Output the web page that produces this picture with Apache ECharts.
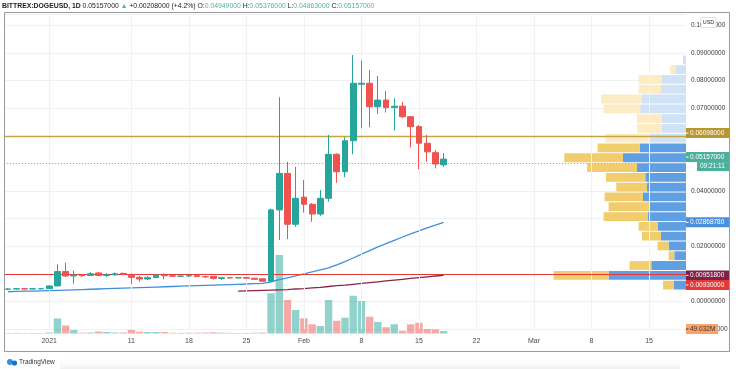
<!DOCTYPE html>
<html><head><meta charset="utf-8">
<script src="https://cdn.jsdelivr.net/npm/echarts@6/dist/echarts.min.js"></script>
<style>html,body{margin:0;padding:0;background:#fff;overflow:hidden}#c{width:736px;height:369px}</style>
</head><body><div id="c"></div>
<script>
// ---------- DATA ----------
const dates = [
'2020-12-27','2020-12-28','2020-12-29','2020-12-30','2020-12-31',
'2021-01-01','2021-01-02','2021-01-03','2021-01-04','2021-01-05','2021-01-06','2021-01-07','2021-01-08','2021-01-09','2021-01-10',
'2021-01-11','2021-01-12','2021-01-13','2021-01-14','2021-01-15','2021-01-16','2021-01-17','2021-01-18','2021-01-19','2021-01-20',
'2021-01-21','2021-01-22','2021-01-23','2021-01-24','2021-01-25','2021-01-26','2021-01-27','2021-01-28','2021-01-29','2021-01-30','2021-01-31',
'2021-02-01','2021-02-02','2021-02-03','2021-02-04','2021-02-05','2021-02-06','2021-02-07','2021-02-08','2021-02-09','2021-02-10',
'2021-02-11','2021-02-12','2021-02-13','2021-02-14','2021-02-15','2021-02-16','2021-02-17','2021-02-18','2021-02-19','2021-02-20',
'2021-02-21','2021-02-22','2021-02-23','2021-02-24','2021-02-25','2021-02-26','2021-02-27','2021-02-28',
'2021-03-01','2021-03-02','2021-03-03','2021-03-04','2021-03-05','2021-03-06','2021-03-07','2021-03-08','2021-03-09','2021-03-10',
'2021-03-11','2021-03-12','2021-03-13','2021-03-14','2021-03-15','2021-03-16','2021-03-17','2021-03-18','2021-03-19'];

const open  = [.0045,.0046,.0047,.0046,.0047, .0047,.0057,.0109,.0093,.0096,.0095,.0104,.0095,.0097,.0102,
  .0099,.0088,.0082,.0087,.0096,.0094,.0092,.0093,.0094,.0091, .0092,.0084,.0087,.0086,.0087,.0085,.0083,.0074,.0332,.0464,.0280,
  .0378,.0352,.0317,.0374,.0533,.0470,.0582,.0786,.0790,.0705, .0729,.0702,.0707,.0669,.0633,.0573,.0539,.04949];
const high  = [.0049,.0048,.0048,.0048,.0049, .0059,.0135,.0141,.0112,.0100,.0107,.0107,.0104,.0106,.0106,
  .0101,.0093,.0092,.0099,.0103,.0097,.0095,.0096,.0096,.0094, .0093,.0088,.0089,.0088,.0090,.0086,.0084,.0337,.0739,.0506,.0488,
  .0440,.0357,.0404,.0603,.0537,.0595,.0892,.0872,.0838,.0816, .0762,.0736,.0723,.0672,.0639,.0603,.0549,.05376];
const low   = [.0043,.0044,.0044,.0045,.0045, .0046,.0056,.0089,.0065,.0090,.0093,.0092,.0089,.0095,.0096,
  .0064,.0072,.0078,.0085,.0081,.0089,.0089,.0090,.0089,.0085, .0080,.0078,.0084,.0084,.0083,.0079,.0072,.0071,.0223,.0226,.0271,
  .0322,.0289,.0310,.0362,.0430,.0450,.0533,.0627,.0631,.0679, .0684,.0618,.0663,.0558,.0479,.0506,.0482,.04863];
const close = [.0046,.0047,.0046,.0047,.0047, .0057,.0109,.0093,.0096,.0094,.0101,.0095,.0097,.0101,.0100,
  .0088,.0082,.0087,.0096,.0094,.0092,.0093,.0094,.0091,.0090, .0084,.0087,.0086,.0087,.0085,.0081,.0074,.0332,.0464,.0280,.0374,
  .0352,.0317,.0374,.0533,.0470,.0582,.0790,.0790,.0705,.0729, .0702,.0707,.0669,.0633,.0573,.0542,.0498,.05157];
// volume in millions
const volume = [10,12,9,11,10, 20,300,160,70,15,20,40,30,20,20,
  70,34,30,30,28,14,12,15,16,18, 24,16,12,10,12,14,18,805,1570,670,470,
  305,185,150,670,255,315,755,650,335,230, 125,185,56,185,215,90,84,49.032];
const ma50 = [.0036,.0037,.0038,.0038,.0039, .0040,.0041,.0042,.0043,.0044,.0045,.0046,.0047,.0048,.0049,
  .0050,.0051,.0052,.0053,.0054,.0055,.0056,.0057,.0058,.0059, .0060,.0061,.0062,.0063,.0064,.0065,.0066,.0072,.0080,.0086,.0093,
  .0101,.0108,.0115,.0122,.0133,.0145,.0158,.0172,.0185,.0198, .0210,.0222,.0234,.0245,.0256,.0267,.0277,.0286878];
const ma200 = [null,null,null,null,null, null,null,null,null,null,null,null,null,null,null,
  null,null,null,null,null,null,null,null,null,null, null,null,null,.0038,.0039,.0040,.0041,.0042,.0043,.0044,.0046,
  .0047,.0050,.0052,.0055,.0058,.0060,.0063,.0066,.0069,.0072, .0075,.0078,.0081,.0084,.0087,.0090,.0093,.009518];

const xTickDates  = ['2021-01-01','2021-01-11','2021-01-18','2021-01-25','2021-02-01','2021-02-08','2021-02-15','2021-02-22','2021-03-01','2021-03-08','2021-03-15'];
const xTickLabels = ['2021','11','18','25','Feb','8','15','22','Mar','8','15'];
const hiddenPriceTicks = [0.01, 0.03, 0.05, 0.06];

// visible-range volume profile rows (bottom -> top)
const vpvrLow  = [.00423,.00777,.01131,.01486,.01840,.02194,.02548,.02903,.03257,.03611,.03965,.04320,.04674,.05028,.05382,.05736,.06090,.06445,.06799,.07153,.07507,.07862,.08216,.08570];
const vpvrHigh = [.00777,.01131,.01486,.01840,.02194,.02548,.02903,.03257,.03611,.03965,.04320,.04674,.05028,.05382,.05736,.06090,.06445,.06799,.07153,.07507,.07862,.08216,.08570,.08924];
const vpvrUp   = [124,774,347,117,174,250,284,384,364,430,390,407,490,630,464,374,240,240,457,440,250,240,107,30];
const vpvrDown = [106,550,217,57,110,190,190,440,410,384,307,393,500,587,420,433,250,250,367,410,224,234,50,0];
const vpvrInValueArea = [1,1,1,1,1,1,1,1,1,1,1,1,1,1,1,0,0,0,0,0,0,0,0,0];

const userLinePrice = 0.06098, pocPrice = 0.0093, lastPrice = 0.05157, ma50Last = 0.0286878, ma200Last = 0.009518, lastVolume = 49.032;
const headerParts = ['BITTREX:DOGEUSD, 1D', '0.05157000', '▲', '+0.00208000 (+4.2%)', '0.04949000', '0.05376000', '0.04863000', '0.05157000'];

// ---------- CHART ----------
const UP = '#26a69a', DN = '#ef5350';
const FONT = '"Liberation Sans", Arial, sans-serif';
const GL = 4, GR = 50;
const chart = echarts.init(document.getElementById('c'));
const candleData = open.map((o, i) => [o, close[i], low[i], high[i]]);
const volData = volume.map((v, i) => ({value: v, itemStyle: {color: close[i] >= open[i] ? 'rgba(38,166,154,0.5)' : 'rgba(239,83,80,0.5)'}}));
const vpvrData = vpvrLow.map((l, i) => [l, vpvrHigh[i], vpvrUp[i], vpvrDown[i], vpvrInValueArea[i]]);

const option = {
  animation: false,
  grid: [
    {left: GL, right: GR, top: 14.1, height: 315.25},
    {left: GL, right: GR, top: 183.5, height: 150},
    {left: GL, right: GR, top: 14.1, height: 315.25}
  ],
  xAxis: [
    {type: 'category', gridIndex: 0, data: dates, boundaryGap: true, axisLine: {show: false}, axisTick: {show: false}, axisLabel: {show: false}, splitLine: {show: false}},
    {type: 'category', gridIndex: 1, data: dates, boundaryGap: true, axisLine: {show: false}, axisTick: {show: false}, splitLine: {show: false},
      axisLabel: {show: true, margin: 4, fontSize: 7, color: '#4a4a4a', fontFamily: FONT,
        interval: (i, v) => xTickDates.indexOf(v) >= 0,
        formatter: v => { const k = xTickDates.indexOf(v); return k >= 0 ? xTickLabels[k] : ''; }}},
    {type: 'value', gridIndex: 2, inverse: true, min: 0, max: 6820, show: false}
  ],
  yAxis: [
    {type: 'value', gridIndex: 0, position: 'right', min: -0.01, max: 0.104, interval: 0.01,
      axisLine: {show: false}, axisTick: {show: false},
      splitLine: {show: true, lineStyle: {color: '#f0f1f4', width: 1}},
      axisLabel: {show: true, margin: 5, fontSize: 6.5, color: '#3a3a3a', fontFamily: FONT, align: 'left',
        formatter: v => {
          const r = Math.round(v * 100) / 100;
          if (Math.abs(r - v) > 1e-9) return '';
          if (hiddenPriceTicks.some(h => Math.abs(h - r) < 1e-9)) return '';
          return r.toFixed(8);
        }}},
    {type: 'value', gridIndex: 1, min: 0, max: 3000, show: false},
    {type: 'value', gridIndex: 2, min: -0.01, max: 0.104, show: false}
  ],
  series: [
    { // vertical grid lines at label dates
      type: 'line', xAxisIndex: 0, yAxisIndex: 0, data: [], silent: true, z: 0,
      markLine: {silent: true, symbol: 'none', label: {show: false}, animation: false,
        lineStyle: {color: '#f0f1f4', width: 1, type: 'solid'},
        data: xTickDates.map(d => ({xAxis: d}))}
    },
    { // current price dotted line
      type: 'line', xAxisIndex: 0, yAxisIndex: 0, data: [], silent: true, z: 1,
      markLine: {silent: true, symbol: 'none', label: {show: false}, animation: false,
        lineStyle: {color: '#9db3af', width: 1, type: [1, 2]},
        data: [{yAxis: lastPrice}]}
    },
    {
      type: 'bar', xAxisIndex: 1, yAxisIndex: 1, data: volData, barWidth: '90%', z: 2, silent: true
    },
    {
      type: 'custom', xAxisIndex: 2, yAxisIndex: 2, data: vpvrData, z: 3, silent: true,
      renderItem: (params, api) => {
        const lo = api.value(0), hi = api.value(1), up = api.value(2), dn = api.value(3), va = api.value(4);
        const pR = api.coord([0, hi]);
        const pU = api.coord([up, lo]);
        const pD = api.coord([up + dn, lo]);
        const y0 = pR[1] + 0.5, h = pU[1] - pR[1] - 1;
        return {type: 'group', children: [
          {type: 'rect', shape: {x: pU[0], y: y0, width: pR[0] - pU[0], height: h}, style: {fill: va ? '#5f9fe2' : '#d0e2f6'}},
          {type: 'rect', shape: {x: pD[0], y: y0, width: pU[0] - pD[0], height: h}, style: {fill: va ? '#f2cd6e' : '#fcebc3'}}
        ]};
      }
    },
    {
      type: 'line', xAxisIndex: 0, yAxisIndex: 0, data: ma50, showSymbol: false, z: 4, silent: true,
      lineStyle: {color: '#3f8fdc', width: 1.3}
    },
    {
      type: 'line', xAxisIndex: 0, yAxisIndex: 0, data: ma200, showSymbol: false, z: 4, silent: true,
      lineStyle: {color: '#8c2345', width: 1.3}
    },
    {
      type: 'candlestick', xAxisIndex: 0, yAxisIndex: 0, data: candleData, barWidth: '76%', z: 5, silent: true,
      itemStyle: {color: UP, color0: DN, borderColor: UP, borderColor0: DN, borderWidth: 1}
    },
    { // user horizontal line and POC line
      type: 'line', xAxisIndex: 0, yAxisIndex: 0, data: [], silent: true, z: 6,
      markLine: {silent: true, symbol: 'none', label: {show: false}, animation: false,
        data: [
          {yAxis: userLinePrice, lineStyle: {color: '#c6a444', width: 1.4, type: 'solid'}},
          {yAxis: pocPrice, lineStyle: {color: '#e53935', width: 1.2, type: 'solid'}}
        ]}
    }
  ]
};
chart.setOption(option);

// ---------- overlay labels / frame ----------
const py = v => chart.convertToPixel({yAxisIndex: 0}, v);
const vy = v => chart.convertToPixel({yAxisIndex: 1}, v);
function tag(y, text, bg, fg, x0, w) {
  return [
    {type: 'rect', z: 50, shape: {x: x0, y: y - 5, width: w, height: 10}, style: {fill: bg}},
    {type: 'rect', z: 51, shape: {x: x0, y: y - 0.5, width: 2.5, height: 1}, style: {fill: fg}},
    {type: 'text', z: 52, style: {x: x0 + 4, y: y, text: text, fill: fg, font: '6.5px ' + FONT, textVerticalAlign: 'middle', verticalAlign: 'middle'}}
  ];
}
const g = [];
// frame
g.push({type: 'rect', z: 40, shape: {x: 4.5, y: 12.5, width: 725, height: 339}, style: {fill: 'none', stroke: '#9b9b9b', lineWidth: 1}});
// price tags
g.push(...tag(py(userLinePrice), '0.06098000', '#b8962f', '#ffffff', 686, 43));
g.push(...tag(py(lastPrice) - 2, '0.05157000', '#4caf9c', '#ffffff', 686, 43));
g.push({type: 'rect', z: 50, shape: {x: 697, y: py(lastPrice) + 3, width: 32, height: 9}, style: {fill: '#4caf9c'}});
g.push({type: 'text', z: 52, style: {x: 700, y: py(lastPrice) + 7.5, text: '09:21:11', fill: '#ffffff', font: '6.5px ' + FONT, textVerticalAlign: 'middle', verticalAlign: 'middle'}});
g.push(...tag(py(ma50Last), '0.02868780', '#4a90dc', '#ffffff', 686, 43));
g.push(...tag(py(ma200Last), '0.00951800', '#7e1f48', '#ffffff', 686, 43));
g.push(...tag(py(pocPrice) + 9, '0.00930000', '#e53935', '#ffffff', 686, 43));
g.push(...tag(vy(lastVolume) - 2, '49.032M', '#f4a46c', '#4a3020', 686, 32));
// USD box
g.push({type: 'rect', z: 50, shape: {x: 701, y: 17.5, width: 15, height: 10, r: 1}, style: {fill: '#ffffff', stroke: '#d6d6d6', lineWidth: 0.8}});
g.push({type: 'text', z: 52, style: {x: 708.5, y: 22.5, text: 'USD', fill: '#333', font: '5.5px ' + FONT, textAlign: 'center', align: 'center', textVerticalAlign: 'middle', verticalAlign: 'middle'}});
// header
g.push({type: 'text', z: 52, style: {x: 2, y: 6, fill: '#222', font: '6.85px ' + FONT, textVerticalAlign: 'middle', verticalAlign: 'middle',
  text: '{b|' + headerParts[0] + '} ' + headerParts[1] + ' {g|' + headerParts[2] + '} ' + headerParts[3] +
    ' O:{g|' + headerParts[4] + '} H:{g|' + headerParts[5] + '} L:{g|' + headerParts[6] + '} C:{g|' + headerParts[7] + '}',
  rich: {b: {fontWeight: 'bold', fontSize: 6.85, fontFamily: FONT, fill: '#222', color: '#222'}, g: {fontSize: 6.85, fontFamily: FONT, fill: '#4fb3a0', color: '#4fb3a0'}}}});
// bottom shadow + logo
g.push({type: 'rect', z: 1, shape: {x: 60, y: 357, width: 620, height: 12}, style: {fill: new echarts.graphic.LinearGradient(0, 0, 0, 1, [{offset: 0, color: 'rgba(255,255,255,0)'}, {offset: 1, color: 'rgba(200,200,200,0.28)'}])}});
g.push({type: 'circle', z: 52, shape: {cx: 10, cy: 362, r: 3}, style: {fill: '#2f8fe0'}});
g.push({type: 'circle', z: 52, shape: {cx: 14.5, cy: 363, r: 2.6}, style: {fill: '#1f6fbf'}});
g.push({type: 'text', z: 52, style: {x: 19, y: 362.5, text: 'TradingView', fill: '#333', font: '6.5px ' + FONT, textVerticalAlign: 'middle', verticalAlign: 'middle'}});
chart.setOption({graphic: g});
</script></body></html>
